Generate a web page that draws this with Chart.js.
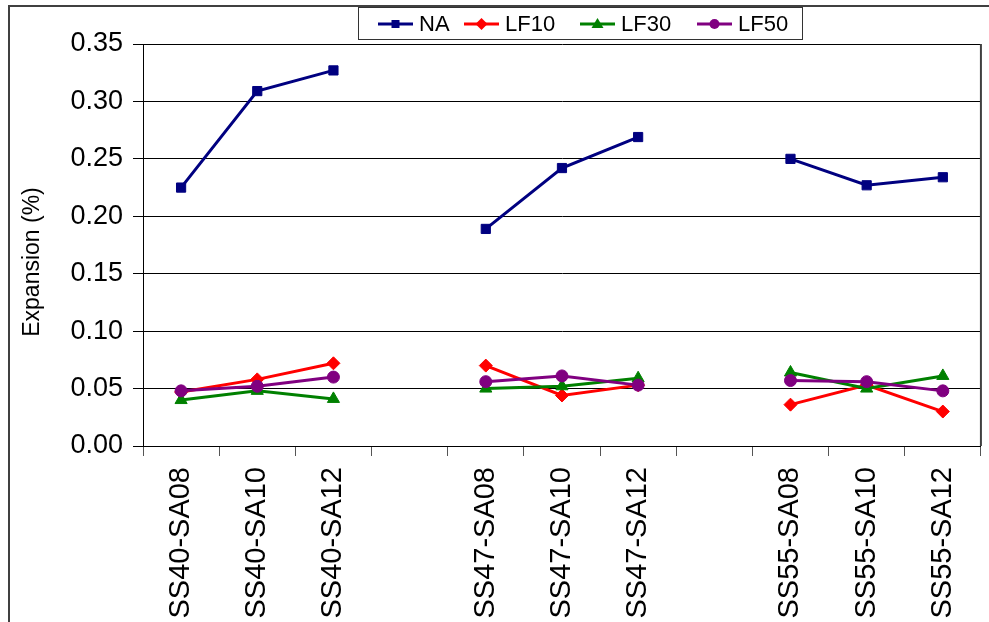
<!DOCTYPE html>
<html>
<head>
<meta charset="utf-8">
<script src="https://cdn.jsdelivr.net/npm/chart.js@4.4.0/dist/chart.umd.min.js"></script>
<style>
  body { margin: 0; background: #fff; }
  #wrap { width: 989px; height: 622px; }
</style>
</head>
<body>
<div id="wrap"><canvas id="chart" width="989" height="622"></canvas></div>
<script>
// mix groups, blank slots separate the SS40 / SS47 / SS55 blocks
var mixes = ['SS40-SA08', 'SS40-SA10', 'SS40-SA12', '',
             'SS47-SA08', 'SS47-SA10', 'SS47-SA12', '',
             'SS55-SA08', 'SS55-SA10', 'SS55-SA12'];

var expNA   = [0.225, 0.309, 0.327, null, 0.189, 0.242, 0.269, null, 0.250, 0.227, 0.234];
var expLF10 = [0.047, 0.058, 0.072, null, 0.070, 0.044, 0.053, null, 0.036, 0.053, 0.030];
var expLF30 = [0.040, 0.048, 0.041, null, 0.050, 0.052, 0.059, null, 0.064, 0.050, 0.061];
var expLF50 = [0.048, 0.052, 0.060, null, 0.056, 0.061, 0.053, null, 0.057, 0.056, 0.048];

var yTicks = [0, 0.05, 0.10, 0.15, 0.20, 0.25, 0.30, 0.35];

var FONT = '"Liberation Sans", Arial, sans-serif';

function series(label, values, color, style, radius, order) {
    return {
        label: label,
        data: values,
        borderColor: color,
        backgroundColor: color,
        borderWidth: 3,
        pointStyle: style,
        pointRadius: radius,
        pointHoverRadius: radius,
        pointBorderColor: color,
        pointBackgroundColor: color,
        pointBorderWidth: 1,
        spanGaps: false,
        tension: 0,
        order: order
    };
}

var datasets = [
    series('NA',   expNA,   '#000080', 'rect',     6.5, 4),
    series('LF10', expLF10, '#ff0000', 'rectRot',  6.5, 3),
    series('LF30', expLF30, '#008000', 'triangle', 7,   2),
    series('LF50', expLF50, '#800080', 'circle',   6,   1)
];

// frame, y title and legend box
var decor = {
    id: 'decor',
    beforeDraw: function(chart) {
        var ctx = chart.ctx;
        ctx.save();
        ctx.fillStyle = '#fff';
        ctx.fillRect(0, 0, chart.width, chart.height);
        ctx.strokeStyle = '#404040';
        ctx.lineWidth = 2;
        ctx.beginPath();
        ctx.moveTo(9, chart.height);
        ctx.lineTo(9, 6);
        ctx.lineTo(chart.width, 6);
        ctx.stroke();
        ctx.restore();
    },
    afterDraw: function(chart) {
        var ctx = chart.ctx;
        var a = chart.chartArea;
        ctx.save();

        ctx.strokeStyle = '#404040';
        ctx.lineWidth = 2;
        ctx.beginPath();
        ctx.moveTo(a.right, a.top);
        ctx.lineTo(a.right, a.bottom);
        ctx.stroke();

        ctx.fillStyle = '#000';
        ctx.font = '23px ' + FONT;
        ctx.textAlign = 'center';
        ctx.textBaseline = 'middle';
        ctx.translate(33, 262);
        ctx.rotate(-Math.PI / 2);
        ctx.fillText('Expansion (%)', 0, 0);
        ctx.restore();

        // legend
        ctx.save();
        ctx.fillStyle = '#fff';
        ctx.fillRect(358.5, 7.5, 444, 32);
        ctx.strokeStyle = '#333';
        ctx.lineWidth = 1;
        ctx.strokeRect(358.5, 7.5, 444, 32);
        var xs = [378, 464, 580, 697];
        var cy = 24;
        ctx.font = '22px ' + FONT;
        ctx.textBaseline = 'middle';
        ctx.textAlign = 'left';
        chart.data.datasets.forEach(function(ds, i) {
            var x0 = xs[i], x1 = xs[i] + 35, mx = (x0 + x1) / 2;
            ctx.strokeStyle = ds.borderColor;
            ctx.lineWidth = 3;
            ctx.beginPath();
            ctx.moveTo(x0, cy);
            ctx.lineTo(x1, cy);
            ctx.stroke();
            ctx.fillStyle = ds.borderColor;
            ctx.beginPath();
            if (ds.pointStyle === 'rect') {
                ctx.rect(mx - 4, cy - 4, 8, 8);
            } else if (ds.pointStyle === 'rectRot') {
                ctx.moveTo(mx, cy - 6); ctx.lineTo(mx + 6, cy);
                ctx.lineTo(mx, cy + 6); ctx.lineTo(mx - 6, cy);
                ctx.closePath();
            } else if (ds.pointStyle === 'triangle') {
                ctx.moveTo(mx, cy - 6); ctx.lineTo(mx + 6, cy + 4);
                ctx.lineTo(mx - 6, cy + 4);
                ctx.closePath();
            } else {
                ctx.arc(mx, cy, 5, 0, Math.PI * 2);
            }
            ctx.fill();
            ctx.fillStyle = '#000';
            ctx.fillText(ds.label, x1 + 6, cy + 1);
        });
        ctx.restore();
    }
};

var ctx = document.getElementById('chart').getContext('2d');
new Chart(ctx, {
    type: 'line',
    data: { labels: mixes, datasets: datasets },
    options: {
        responsive: false,
        animation: false,
        devicePixelRatio: 1,
        layout: { padding: { left: 0, right: 8, top: 44, bottom: 0 } },
        plugins: {
            legend: { display: false },
            tooltip: { enabled: false }
        },
        scales: {
            x: {
                type: 'category',
                offset: true,
                grid: {
                    offset: true,
                    drawOnChartArea: false,
                    drawTicks: true,
                    tickLength: 10,
                    color: '#555',
                    lineWidth: 1
                },
                border: { display: true, color: '#000', width: 1 },
                ticks: {
                    autoSkip: false,
                    minRotation: 90,
                    maxRotation: 90,
                    padding: 11,
                    color: '#000',
                    font: { family: FONT, size: 29 }
                },
                afterFit: function(scale) { scale.height = 176; }
            },
            y: {
                min: 0,
                max: 0.35,
                afterBuildTicks: function(scale) {
                    scale.ticks = yTicks.map(function(v) { return { value: v }; });
                },
                grid: {
                    color: '#000',
                    lineWidth: 1,
                    drawTicks: true,
                    tickLength: 10
                },
                border: { display: true, color: '#000', width: 1 },
                ticks: {
                    padding: 10,
                    color: '#000',
                    font: { family: FONT, size: 27 },
                    callback: function(v) { return Number(v).toFixed(2); }
                },
                afterFit: function(scale) { scale.width = 143; }
            }
        }
    },
    plugins: [decor]
});
</script>
</body>
</html>
